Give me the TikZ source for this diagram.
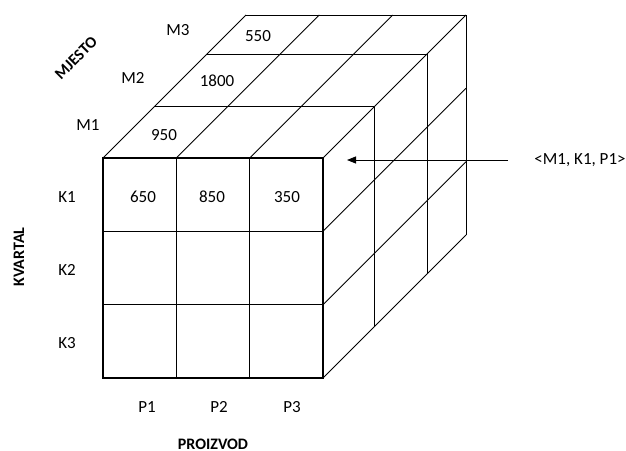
\documentclass[tikz,border=0pt]{standalone}
\usepackage{fontspec}
\setmainfont{Carlito}
\usepackage{tikz}
\usetikzlibrary{arrows.meta,positioning,calc}

\begin{document}
\begin{tikzpicture}[x=1pt, y=-1pt, line width=0.9pt,
  lbl/.style={font=\fontsize{17}{20}\selectfont, inner sep=0pt},
  axis/.style={font=\fontsize{16}{19}\selectfont\bfseries, inner sep=0pt}]
  \useasboundingbox (0,0) rectangle (626,450);
  % front face
  \draw[line width=1.1pt] (103,158) rectangle (323,378);
  \draw[line width=1.1pt] (176.3,158) -- (176.3,378);
  \draw[line width=1.1pt] (249.7,158) -- (249.7,378);
  \draw[line width=1.1pt] (103,231.3) -- (323,231.3);
  \draw[line width=1.1pt] (103,304.7) -- (323,304.7);
  % top face
  \draw (103,158) -- (246,15);
  \draw (176.3,158) -- (319.3,15);
  \draw (249.7,158) -- (392.7,15);
  \draw (323,158) -- (466,15);
  \draw (154.5,106.5) -- (374.5,106.5);
  \draw (207,54) -- (427,54);
  \draw (246,15) -- (466,15);
  % right face
  \draw (374.5,106.5) -- (374.5,326.5);
  \draw (427,54) -- (427,274);
  \draw (466,15) -- (466,235);
  \draw (323,231.3) -- (466,88.3);
  \draw (323,304.7) -- (466,161.7);
  \draw (323,378) -- (466,235);
  % values
  \node[lbl] (v550) at (258,36) {550};
  \node[lbl] (v1800) at (217,81) {1800};
  \node[lbl] (v950) at (164,135) {950};
  \node[lbl] (v650) at (143,197) {650};
  \node[lbl] (v850) at (212,197) {850};
  \node[lbl] (v350) at (287,197) {350};
  % labels
  \node[lbl] (m3) at (178,30) {M3};
  \node[lbl] (m2) at (133,78) {M2};
  \node[lbl] (m1) at (88,125) {M1};
  \node[lbl] (k1) at (67,197) {K1};
  \node[lbl] (k2) at (67,270) {K2};
  \node[lbl] (k3) at (67,343) {K3};
  \node[lbl] (p1) at (147,407) {P1};
  \node[lbl] (p2) at (219,407) {P2};
  \node[lbl] (p3) at (292,407) {P3};
  \node[axis, rotate=45] (mjesto) at (76,58) {MJESTO};
  \node[axis, rotate=90] (kvartal) at (19,257) {KVARTAL};
  \node[axis] (proizvod) at (213,444) {PROIZVOD};
  % pointer
  \node[lbl, anchor=west] (cell) at (534,160) {<M1, K1, P1>};
  \coordinate (tip) at (347,160);
  \draw[-{Triangle[length=9pt,width=7pt]}] ([xshift=-26pt]cell.west) -- (tip);
\end{tikzpicture}
\end{document}
